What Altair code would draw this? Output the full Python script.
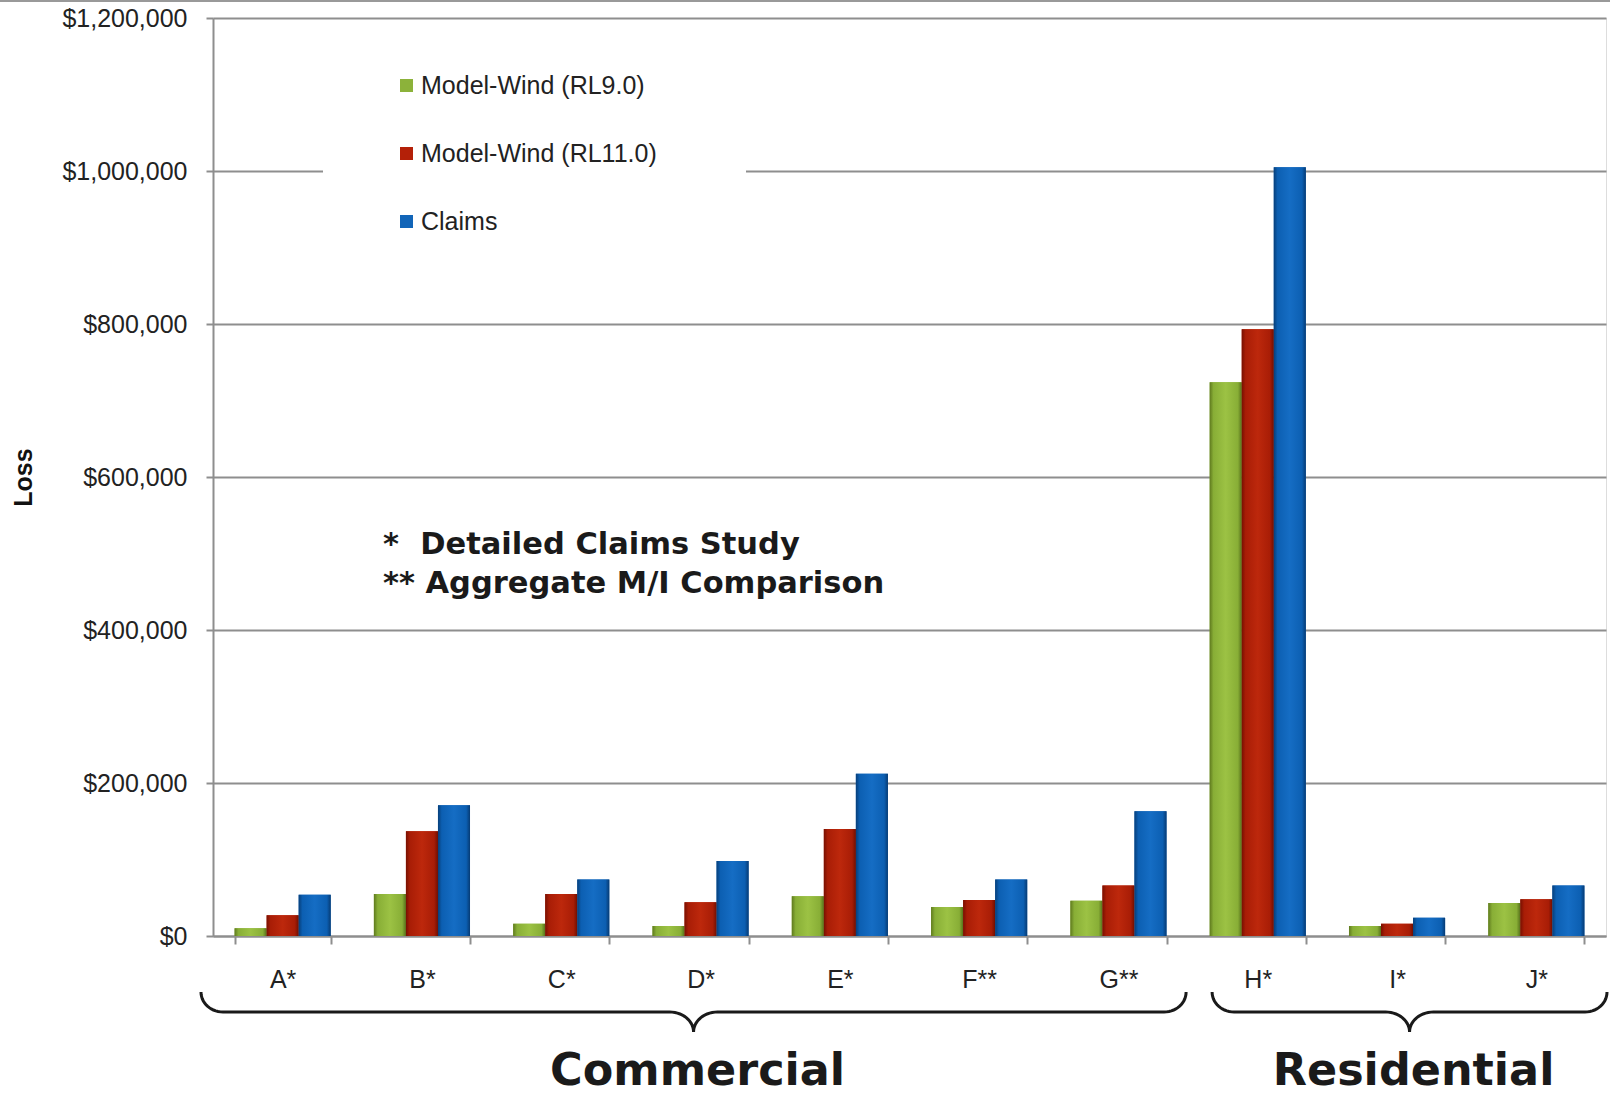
import math
import altair as alt
import pandas as pd

# ---------------- data ----------------
categories = ["A*", "B*", "C*", "D*", "E*", "F**", "G**", "H*", "I*", "J*"]
series = ["Model-Wind (RL9.0)", "Model-Wind (RL11.0)", "Claims"]
rl9 = [10000, 55000, 16000, 13000, 52000, 38000, 46000, 724000, 13000, 43000]
rl11 = [27000, 137000, 55000, 44000, 140000, 47000, 66000, 793000, 16000, 48000]
claims = [54000, 171000, 74000, 98000, 212000, 74000, 163000, 1005000, 24000, 66000]
y_ticks = [0, 200000, 400000, 600000, 800000, 1000000, 1200000]
groups = ["Commercial", "Residential"]
group_ranges = [(0, 7), (7, 10)]          # category index spans
notes = ["*\u00a0\u00a0Detailed Claims Study", "** Aggregate M/I Comparison"]

# ---------------- styling ----------------
W, H = 1393, 918
colors = ["#8cb23a", "#b42008", "#1265b8"]
grads = [
    ["#5f7a1e", "#88ae36", "#9cc244", "#88ae36", "#57711b"],
    ["#781001", "#a81d06", "#bd280c", "#a81d06", "#700f01"],
    ["#073f7a", "#0c5fb2", "#156dc4", "#0c5fb2", "#063b74"],
]
grid_col = "#8e8e8e"
FONT = "Liberation Sans"

rows = []
for s, vals in zip(series, [rl9, rl11, claims]):
    for c, v in zip(categories, vals):
        rows.append({"cat": c, "series": s, "value": v})
df = pd.DataFrame(rows)

x_enc = alt.X("cat:N", sort=categories, scale=alt.Scale(domain=categories, paddingInner=0.31, paddingOuter=0.155),
              axis=alt.Axis(title=None, labelAngle=0, labelFontSize=25, labelFont=FONT, labelColor="#222",
                            labelBaseline="alphabetic", labelPadding=43, tickSize=8, tickBand="extent",
                            tickColor=grid_col, tickWidth=2, domainColor=grid_col, domainWidth=2, grid=False))
y_enc = alt.Y("value:Q", scale=alt.Scale(domain=[0, 1200000], nice=False, zero=True),
              axis=alt.Axis(title="Loss", values=y_ticks, format="$,.0f", labelFontSize=25, labelFont=FONT,
                            labelColor="#222", labelPadding=19, tickSize=7, tickColor=grid_col, tickWidth=2,
                            domainColor=grid_col, domainWidth=2, grid=True, gridColor=grid_col, gridWidth=2,
                            titleFont=FONT, titleFontSize=25, titleFontWeight="bold", titleColor="#111",
                            titleAngle=-90, titleX=-190, titleY=H / 2, titleAlign="center",
                            titleBaseline="middle"))
xoff = alt.XOffset("series:N", sort=series, scale=alt.Scale(domain=series))

base = alt.Chart(df)

bars = base.mark_bar().encode(
    x=x_enc, y=y_enc, xOffset=xoff,
    color=alt.Color("series:N", sort=series, scale=alt.Scale(domain=series, range=colors),
                    legend=alt.Legend(title=None, orient="none", legendX=181, legendY=55,
                                      symbolType="square", symbolSize=170, symbolStrokeWidth=0,
                                      labelFontSize=25, labelFont=FONT, labelColor="#222", labelLimit=500,
                                      rowPadding=42, labelOffset=2, padding=0)),
)

overlays = []
offs = [0, 0.12, 0.5, 0.88, 1]
for s, g in zip(series, grads):
    grad = alt.LinearGradient(gradient="linear", x1=0, x2=1, y1=0, y2=0,
                              stops=[alt.GradientStop(color=c, offset=o) for c, o in zip(g, offs)])
    overlays.append(
        base.transform_filter(alt.datum.series == s).mark_bar(fill=grad, strokeWidth=0).encode(
            x=alt.X("cat:N", sort=categories), y=alt.Y("value:Q"), xOffset=xoff)
    )

mask = alt.Chart(pd.DataFrame({"a": [0]})).mark_rect(color="white").encode(
    x=alt.value(110), x2=alt.value(533), y=alt.value(140), y2=alt.value(166))

annot = alt.Chart(pd.DataFrame({"a": [0]})).mark_text(
    text=notes, align="left", baseline="alphabetic", lineHeight=39,
    font="DejaVu Sans", fontWeight="bold", fontSize=30.5, color="#1a1a1a"
).encode(x=alt.value(170), y=alt.value(536))

main = alt.layer(mask, bars, *overlays, annot)

# ---------------- braces ----------------
step = W / len(categories)
adj = [(-12, -2), (24, 1)]
END_TOP, ARM, TIP, RX_END, RX_TIP = 56, 20, 20, 22, 24
pts = []
lab = []
for gname, (a, b), (da, db) in zip(groups, group_ranges, adj):
    x0 = a * step + da
    x1 = b * step + db
    xm = (x0 + x1) / 2
    seq = []
    N = 14
    for k in range(N + 1):
        t = k / N * math.pi / 2
        seq.append((x0 + RX_END - RX_END * math.cos(t), END_TOP + ARM * math.sin(t)))
    for k in range(N + 1):
        t = k / N * math.pi / 2
        seq.append((xm - RX_TIP + RX_TIP * math.sin(t), END_TOP + ARM + TIP * (1 - math.cos(t))))
    for k in range(N, -1, -1):
        t = k / N * math.pi / 2
        seq.append((xm + RX_TIP - RX_TIP * math.sin(t), END_TOP + ARM + TIP * (1 - math.cos(t))))
    for k in range(N, -1, -1):
        t = k / N * math.pi / 2
        seq.append((x1 - RX_END + RX_END * math.cos(t), END_TOP + ARM * math.sin(t)))
    for i, (px, py) in enumerate(seq):
        pts.append({"g": gname, "i": i, "px": px, "py": -py})
    lab.append({"g": gname, "px": xm + 4, "py": -149})

bx = alt.X("px:Q", scale=alt.Scale(domain=[0, W], nice=False, zero=False), axis=None)
by = alt.Y("py:Q", scale=alt.Scale(domain=[0, H], nice=False, zero=False), axis=None)

brace = alt.Chart(pd.DataFrame(pts)).mark_line(color="#1a1a1a", strokeWidth=3, clip=False).encode(
    x=bx, y=by, detail="g:N", order=alt.Order("i:Q"))
glabel = alt.Chart(pd.DataFrame(lab)).mark_text(
    font="DejaVu Sans", fontWeight="bold", fontSize=44.5, baseline="alphabetic", align="center", color="#1a1a1a"
).encode(x=bx, y=by, text="g:N")
toprule = alt.Chart(pd.DataFrame({"a": [0]})).mark_rule(color="#999999", strokeWidth=2).encode(
    x=alt.value(-213), x2=alt.value(1397), y=alt.value(-17))

decor = alt.layer(brace, glabel, toprule)

chart = alt.layer(main, decor).resolve_scale(x="independent", y="independent").properties(
    width=W, height=H,
    autosize=alt.AutoSizeParams(type="none"),
    padding={"left": 213, "top": 18, "right": 4, "bottom": 160},
).configure_view(stroke=None).configure(background="white")

chart.save("out.html", embed_options={"renderer": "svg", "actions": False})
